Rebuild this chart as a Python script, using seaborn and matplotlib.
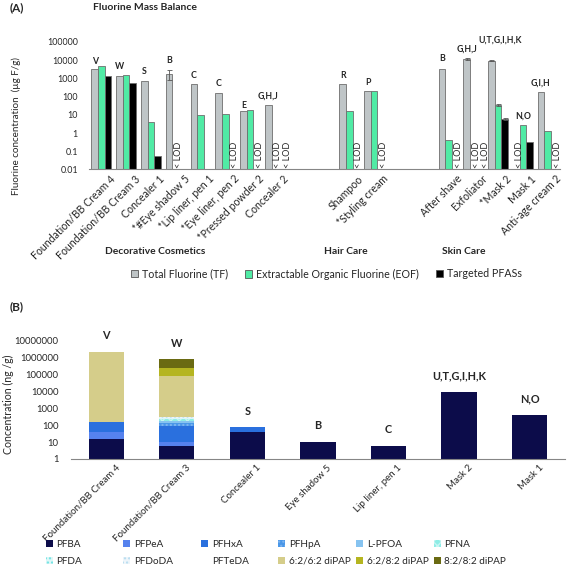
import numpy as np
import pandas as pd
import matplotlib
matplotlib.use("Agg")
import matplotlib.pyplot as plt
import matplotlib.transforms as mtransforms
import seaborn as sns
from matplotlib.patches import Patch


# ======================================================
# DATA  (A) Fluorine mass balance, ug F/g
# ======================================================

a_categories = [
    "Foundation/BB Cream 4", "Foundation/BB Cream 3", "Concealer 1",
    "*#Eye shadow 5", "*Lip liner, pen 1", "*Eye liner, pen 2",
    "*Pressed powder 2", "Concealer 2", " ", "  ",
    "Shampoo", "*Styling cream", "   ", "    ",
    "After shave", "Exfoliator", "*Mask 2", "Mask 1", "Anti-age cream 2",
]

nan = np.nan

tf_values = [3100, 1300, 760, 1670, 490, 166, 16, 33, nan, nan,
             490, 204, nan, nan, 3400, 12300, 9600, nan, 173]
eof_values = [4700, 1480, 3.9, nan, 9.5, 11, 18.6, nan, nan, nan,
              16, 195, nan, nan, 0.4, nan, 36, 2.76, 1.32]
pfas_values = [1300, 550, 0.055, nan, nan, nan, nan, nan, nan, nan,
               nan, nan, nan, nan, nan, nan, 6.0, 0.31, nan]

# error bars (lower, upper)
tf_err_low = [nan, nan, nan, 870, nan, nan, nan, nan, nan, nan,
              nan, nan, nan, nan, nan, 1400, 500, nan, nan]
tf_err_high = [nan, nan, nan, 1230, nan, nan, nan, nan, nan, nan,
               nan, nan, nan, nan, nan, 1400, 500, nan, nan]
eof_err = [nan, nan, nan, nan, nan, nan, nan, nan, nan, nan,
           nan, nan, nan, nan, nan, nan, 6, nan, nan]
pfas_err = [nan, nan, nan, nan, nan, nan, nan, nan, nan, nan,
            nan, nan, nan, nan, nan, nan, 0.6, nan, nan]

# below limit of detection
tf_lod = ["Mask 1"]
eof_lod = ["*#Eye shadow 5", "Concealer 2", "Exfoliator"]
pfas_lod = ["*Eye liner, pen 2", "*Pressed powder 2", "Concealer 2", "Shampoo",
            "*Styling cream", "After shave", "Exfoliator", "Anti-age cream 2"]

a_letters = ["V", "W", "S", "B", "C", "C", "E", "G,H,J", "", "",
             "R", "P", "", "", "B", "G,H,J", "U,T,G,I,H,K", "N,O", "G,I,H"]

a_series = ["Total Fluorine (TF)", "Extractable Organic Fluorine (EOF)", "Targeted PFASs"]

a_groups = ["Decorative Cosmetics", "Hair Care", "Skin Care"]

a_yticks = [0.01, 0.1, 1, 10, 100, 1000, 10000, 100000]
a_yticklabels = ["0.01", "0.1", "1", "10", "100", "1000", "10000", "100000"]


# ======================================================
# DATA  (B) Targeted PFASs, ng/g
# ======================================================

b_categories = ["Foundation/BB Cream 4", "Foundation/BB Cream 3", "Concealer 1",
                "Eye shadow 5", "Lip liner, pen 1", "Mask 2", "Mask 1"]

b_compounds = ["PFBA", "PFPeA", "PFHxA", "PFHpA", "L-PFOA", "PFNA",
               "PFDA", "PFDoDA", "PFTeDA", "6:2/6:2 diPAP", "6:2/8:2 diPAP",
               "8:2/8:2 diPAP"]

pfba = [14.7, 5.9, 40, 10.6, 6.2, 9800, 425]
pfpea = [27, 4, 0, 0, 0, 0, 0]
pfhxa = [107, 85, 39, 0, 0, 0, 0]
pfhpa = [0, 40, 0, 0, 0, 0, 0]
l_pfoa = [0, 45, 0, 0, 0, 0, 0]
pfna = [0, 50, 0, 0, 0, 0, 0]
pfda = [0, 40, 0, 0, 0, 0, 0]
pfdoda = [0, 30, 0, 0, 0, 0, 0]
pfteda = [0, 20, 0, 0, 0, 0, 0]
dipap_62_62 = [2300000, 78700, 0, 0, 0, 0, 0]
dipap_62_82 = [0, 161000, 0, 0, 0, 0, 0]
dipap_82_82 = [0, 610000, 0, 0, 0, 0, 0]

b_letters = ["V", "W", "S", "B", "C", "U,T,G,I,H,K", "N,O"]

b_yticks = [1, 10, 100, 1000, 10000, 100000, 1000000, 10000000]
b_yticklabels = ["1", "10", "100", "1000", "10000", "100000", "1000000", "10000000"]


# ======================================================
# STYLE
# ======================================================

sns.set_style("white")
plt.rcParams["font.family"] = ["Lato", "DejaVu Sans"]

W, H = 567, 570
DPI = 100
PX = 72 / DPI  # points per pixel

a_colors = ["#BFC5C7", "#50EBA5", "#000000"]
b_colors = ["#0C0C4A", "#5682EE", "#2A70DE", "#4A97E8", "#86C3F0", "#8EEDE6",
            "#DDF7F7", "#EEF5FA", "#FFFFFF", "#D5CD8A", "#B5B520", "#6A6A12"]
b_hatches = [None, None, None, "....", None, "xxxx", "....", "....", None,
             None, None, None]
b_hatch_colors = [None, None, None, "#7FB5F0", None, "#C8F5F3", "#6FE3E3",
                  "#B8DDF0", None, None, None, None]

AXIS_GREY = "#868686"
TICK_FS = 6.4
CAT_FS = 7.6


def fig_x(px):
    return px / W


def fig_y(px):
    return 1 - px / H


def shift_xticklabels(ax, fig, dx_px, dy_px):
    # move rotated category labels so they hang like the original
    offset = mtransforms.ScaledTranslation(dx_px / DPI, -dy_px / DPI,
                                           fig.dpi_scale_trans)
    for lab in ax.get_xticklabels():
        lab.set_transform(lab.get_transform() + offset)


# ======================================================
# PANEL A
# ======================================================

def plot_panel_a(fig):

    ax = fig.add_axes([fig_x(89), fig_y(169.5), (560 - 89) / W, 127.5 / H])

    df = pd.DataFrame({
        "category": a_categories * 3,
        "series": np.repeat(a_series, len(a_categories)),
        "value": tf_values + eof_values + pfas_values,
    })

    sns.barplot(
        data=df, x="category", y="value", hue="series",
        order=a_categories, hue_order=a_series, palette=a_colors,
        saturation=1, width=0.8, errorbar=None,
        edgecolor="#6E6E6E", linewidth=0.6, legend=False, ax=ax
    )

    ax.set_yscale("log")
    ax.set_ylim(0.01, 100000)
    ax.set_xlim(-0.5, len(a_categories) - 0.5)

    slot = (np.arange(3) - 1) * 0.8 / 3
    idx = np.arange(len(a_categories))

    # error bars
    err_specs = [
        (tf_values, tf_err_low, tf_err_high, slot[0]),
        (eof_values, eof_err, eof_err, slot[1]),
        (pfas_values, pfas_err, pfas_err, slot[2]),
    ]
    for vals, lo, hi, off in err_specs:
        vals = np.array(vals, dtype=float)
        lo = np.array(lo, dtype=float)
        hi = np.array(hi, dtype=float)
        mask = ~np.isnan(lo)
        ax.errorbar(idx[mask] + off, vals[mask], yerr=[lo[mask], hi[mask]],
                    fmt="none", ecolor="#555555", elinewidth=0.6,
                    capsize=1.8, capthick=0.6)

    # < LOD markers, nudged apart where two sit side by side
    lod_sets = [tf_lod, eof_lod, pfas_lod]
    for s, names in enumerate(lod_sets):
        for name in names:
            i = a_categories.index(name)
            nudge = 3
            if s > 0 and name in lod_sets[s - 1]:
                nudge += 2.5
            ax.annotate("< LOD", (i + slot[s], 0.01), xytext=(nudge * PX, 1),
                        textcoords="offset points", rotation=90,
                        ha="center", va="bottom", fontsize=6.6)

    # sample letters above each group
    all_vals = np.vstack([
        np.array(tf_values) + np.nan_to_num(tf_err_high),
        np.array(eof_values) + np.nan_to_num(eof_err),
        np.array(pfas_values) + np.nan_to_num(pfas_err),
    ])
    present = ~np.isnan(np.array([tf_values, eof_values, pfas_values], dtype=float))
    gaps = {"V": 5, "E": 4, "U,T,G,I,H,K": 20, "B": 10}
    shifts = {"U,T,G,I,H,K": 9}
    for i, letter in enumerate(a_letters):
        if not letter:
            continue
        top = np.nanmax(all_vals[:, i])
        first = np.argmax(present[:, i])
        ax.annotate(letter, (i + slot[first], top),
                    xytext=(shifts.get(letter, 0) * PX, gaps.get(letter, 9) * PX),
                    textcoords="offset points", ha="center", va="center",
                    fontsize=6.3, fontweight="bold")

    ax.set_yticks(a_yticks)
    ax.set_yticklabels(a_yticklabels)
    ax.minorticks_off()
    ax.tick_params(axis="y", length=0, pad=8, labelsize=TICK_FS)
    ax.tick_params(axis="x", length=0, pad=2)
    ax.set_xticks(idx)
    ax.set_xticklabels(a_categories, rotation=45, ha="right", va="top",
                       rotation_mode="anchor", fontsize=CAT_FS)
    shift_xticklabels(ax, fig, 8, 1)

    ax.set_xlabel("")
    ax.set_ylabel("Fluorine concentration  (\u00b5g F/g)", fontsize=7.1)
    ax.yaxis.set_label_coords((21 - 89) / 471, (169.5 - 126) / 127.5)

    sns.despine(ax=ax, left=True)
    ax.spines["bottom"].set_color(AXIS_GREY)
    ax.spines["bottom"].set_linewidth(0.8)

    # group names under the rotated labels
    for name, px in zip(a_groups, [155, 346, 464]):
        fig.text(fig_x(px), fig_y(252), name, ha="center", va="center",
                 fontsize=7.4, fontweight="bold")

    # one legend entry per series, placed where the original has them
    for color, label, px in zip(a_colors, a_series, [131, 245, 436]):
        handle = Patch(facecolor=color, edgecolor="#555555", linewidth=0.6)
        fig.legend([handle], [label], loc="center left",
                   bbox_to_anchor=(fig_x(px), fig_y(274)), frameon=False,
                   fontsize=7.7, handlelength=0.7, handleheight=0.7,
                   handletextpad=0.35, borderpad=0, borderaxespad=0)

    fig.text(fig_x(10), fig_y(8), "(A)", fontsize=8.5, fontweight="bold",
             va="center")
    fig.text(fig_x(145), fig_y(8), "Fluorine Mass Balance", fontsize=7.5,
             fontweight="bold", ha="center", va="center")


# ======================================================
# PANEL B
# ======================================================

def plot_panel_b(fig):

    ax = fig.add_axes([fig_x(71), fig_y(459), (565 - 71) / W, 118 / H])

    parts = pd.DataFrame(
        [pfba, pfpea, pfhxa, pfhpa, l_pfoa, pfna, pfda, pfdoda, pfteda,
         dipap_62_62, dipap_62_82, dipap_82_82],
        index=b_compounds, columns=b_categories,
    )
    stacked = parts.cumsum(axis=0)

    # draw from the top of the stack down so each layer shows its own slice
    for k in range(len(b_compounds) - 1, -1, -1):
        kw = {}
        if b_hatches[k]:
            kw = dict(hatch=b_hatches[k], edgecolor=b_hatch_colors[k])
        sns.barplot(x=b_categories, y=stacked.iloc[k].values,
                    color=b_colors[k], saturation=1, width=0.5,
                    errorbar=None, linewidth=0, ax=ax, **kw)

    ax.set_yscale("log")
    ax.set_ylim(1, 10000000)
    ax.set_xlim(-0.5, len(b_categories) - 0.5)

    totals = stacked.iloc[-1].values
    for i, letter in enumerate(b_letters):
        ax.annotate(letter, (i, totals[i]), xytext=(0, 16 * PX),
                    textcoords="offset points", ha="center", va="center",
                    fontsize=7.8, fontweight="bold")

    ax.set_yticks(b_yticks)
    ax.set_yticklabels(b_yticklabels)
    ax.minorticks_off()
    ax.tick_params(axis="y", length=0, pad=9, labelsize=TICK_FS + 0.4)
    ax.tick_params(axis="x", length=0, pad=3)
    ax.set_xticks(range(len(b_categories)))
    ax.set_xticklabels(b_categories, rotation=45, ha="right", va="top",
                       rotation_mode="anchor", fontsize=CAT_FS - 0.6)
    shift_xticklabels(ax, fig, 9, 0)

    ax.set_xlabel("")
    ax.set_ylabel("Concentration (ng /g)", fontsize=7.6)
    ax.yaxis.set_label_coords((14 - 71) / 494, (459 - 404) / 118)

    sns.despine(ax=ax, left=True)
    ax.spines["bottom"].set_color(AXIS_GREY)
    ax.spines["bottom"].set_linewidth(0.8)

    fig.text(fig_x(10), fig_y(307), "(B)", fontsize=8.5, fontweight="bold",
             va="center")

    # legend: six columns of two rows, evenly spaced like the original
    handles = []
    for k in range(len(b_compounds)):
        if b_hatches[k]:
            h = Patch(facecolor=b_colors[k], hatch=b_hatches[k],
                      edgecolor=b_hatch_colors[k], linewidth=0)
        else:
            h = Patch(facecolor=b_colors[k], linewidth=0)
        handles.append(h)

    for col in range(6):
        fig.legend([handles[col], handles[col + 6]],
                   [b_compounds[col], b_compounds[col + 6]],
                   loc="center left",
                   bbox_to_anchor=(fig_x(45.5 + col * 77.6), fig_y(553)),
                   frameon=False, fontsize=7.2, handlelength=0.7,
                   handleheight=0.7, handletextpad=0.4, labelspacing=0.75,
                   borderpad=0, borderaxespad=0)


# ======================================================
# MAIN
# ======================================================

def main():

    fig = plt.figure(figsize=(W / DPI, H / DPI), dpi=DPI)

    plot_panel_a(fig)
    plot_panel_b(fig)

    fig.savefig("out.png", dpi=DPI)


if __name__ == "__main__":
    main()
